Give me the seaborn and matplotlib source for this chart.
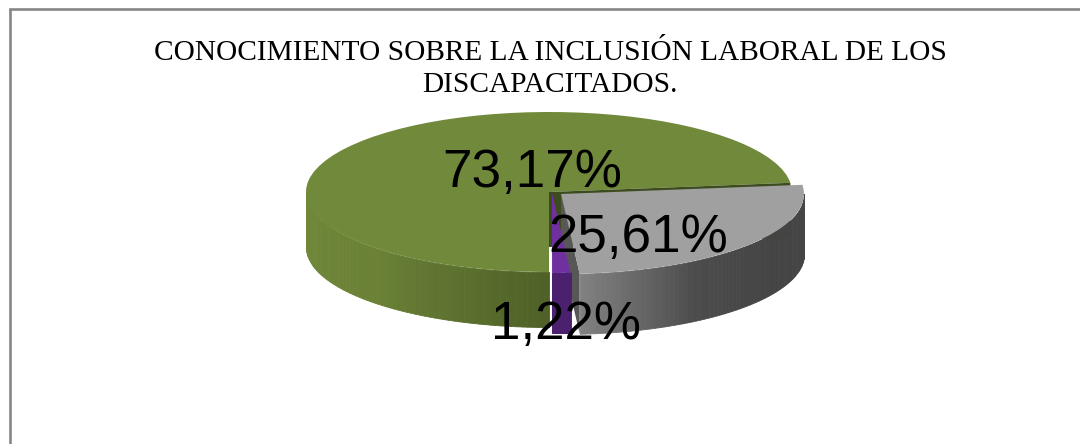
import numpy as np
import seaborn as sns
import matplotlib.pyplot as plt

titulo = "CONOCIMIENTO SOBRE LA INCLUSIÓN LABORAL DE LOS\nDISCAPACITADOS."
porcentajes = [73.17, 1.22, 25.61]
etiquetas = ["73,17%", "1,22%", "25,61%"]

colores_top = ["#71893a", "#7030a0", "#a0a0a0"]
degradados = [["#71893a", "#6a8136", "#4f6127"],
              ["#4b206e", "#4b206e"],
              ["#808080", "#4c4c4c", "#444444", "#454545"]]
pos_etiquetas = [(532, 173), (566, 325), (638, 238)]

# geometria en pixeles de la imagen
W, H = 1080, 444
CX, CY, RX, RY = 549, 192, 243, 80
BORDE_X, BORDE_Y = 9.5, 9.5
desplaz = [(0, 0), (3 / RX, -1 / RY), (12 / RX, -2 / RY)]
prof = [55 / RY, 60 / RY, 60 / RY]

sns.set_theme(style="white")
plt.rcParams['font.family'] = ['Liberation Sans', 'DejaVu Sans']

fig = plt.figure(figsize=(W / 100, H / 100), dpi=100, facecolor="white")
ax = fig.add_axes([BORDE_X / W, 0, 1 - BORDE_X / W, 1 - BORDE_Y / H])

wedges, _ = ax.pie(porcentajes, startangle=6.6, colors=colores_top, radius=1,
                   frame=True, wedgeprops={"linewidth": 0})
ax.set_aspect("auto")
ax.set_xlim((BORDE_X - CX) / RX, (W - CX) / RX)
ax.set_ylim((CY - H) / RY, (CY - BORDE_Y) / RY)
ax.set_xticks([])
ax.set_yticks([])
for lado in ["right", "bottom"]:
    ax.spines[lado].set_visible(False)
for lado in ["left", "top"]:
    ax.spines[lado].set_color("#868686")
    ax.spines[lado].set_linewidth(1.9)

orden_z = [1, 4, 3]
for w, d, p, grad, z in zip(wedges, desplaz, prof, degradados, orden_z):
    w.set_center(d)
    w.set_zorder(z + 0.5)
    # lateral visible: solo la parte frontal del sector
    ini = max(w.theta1, 180)
    fin = min(w.theta2, 360)
    n = 70
    cols = sns.blend_palette(grad, n_colors=n)
    angs = np.radians(np.linspace(ini, fin, n + 1))
    for i in range(n):
        a = angs[i:i + 2]
        xs = np.cos(a) + d[0]
        ys = np.sin(a) + d[1]
        ax.fill_between(xs, ys - p, ys, color=cols[i], linewidth=0.6, zorder=z)

# pared interior del sector verde, se ve por la separacion
verde = wedges[0]
a = np.radians(verde.theta1)
ax.fill([0, np.cos(a), np.cos(a), 0],
        [0, np.sin(a), np.sin(a) - prof[0], -prof[0]],
        color="#3d4c1f", linewidth=0, zorder=2)

# pared del sector gris
gris = wedges[2]
a = np.radians(gris.theta1)
gx, gy = desplaz[2]
ax.fill([gx, np.cos(a) + gx, np.cos(a) + gx, gx],
        [gy, np.sin(a) + gy, np.sin(a) + gy - prof[2], gy - prof[2]],
        color="#575757", linewidth=0, zorder=2.8)

fig.text(550 / W, 1 - 69 / H, titulo, family="Liberation Serif", fontsize=21.2,
         ha="center", va="center", color="black", linespacing=1.3)

for etq, (px, py) in zip(etiquetas, pos_etiquetas):
    fig.text(px / W, 1 - py / H, etq, fontsize=38.2, ha="center", va="center",
             color="black", zorder=10)

fig.savefig("out.png", dpi=100, facecolor="white")
